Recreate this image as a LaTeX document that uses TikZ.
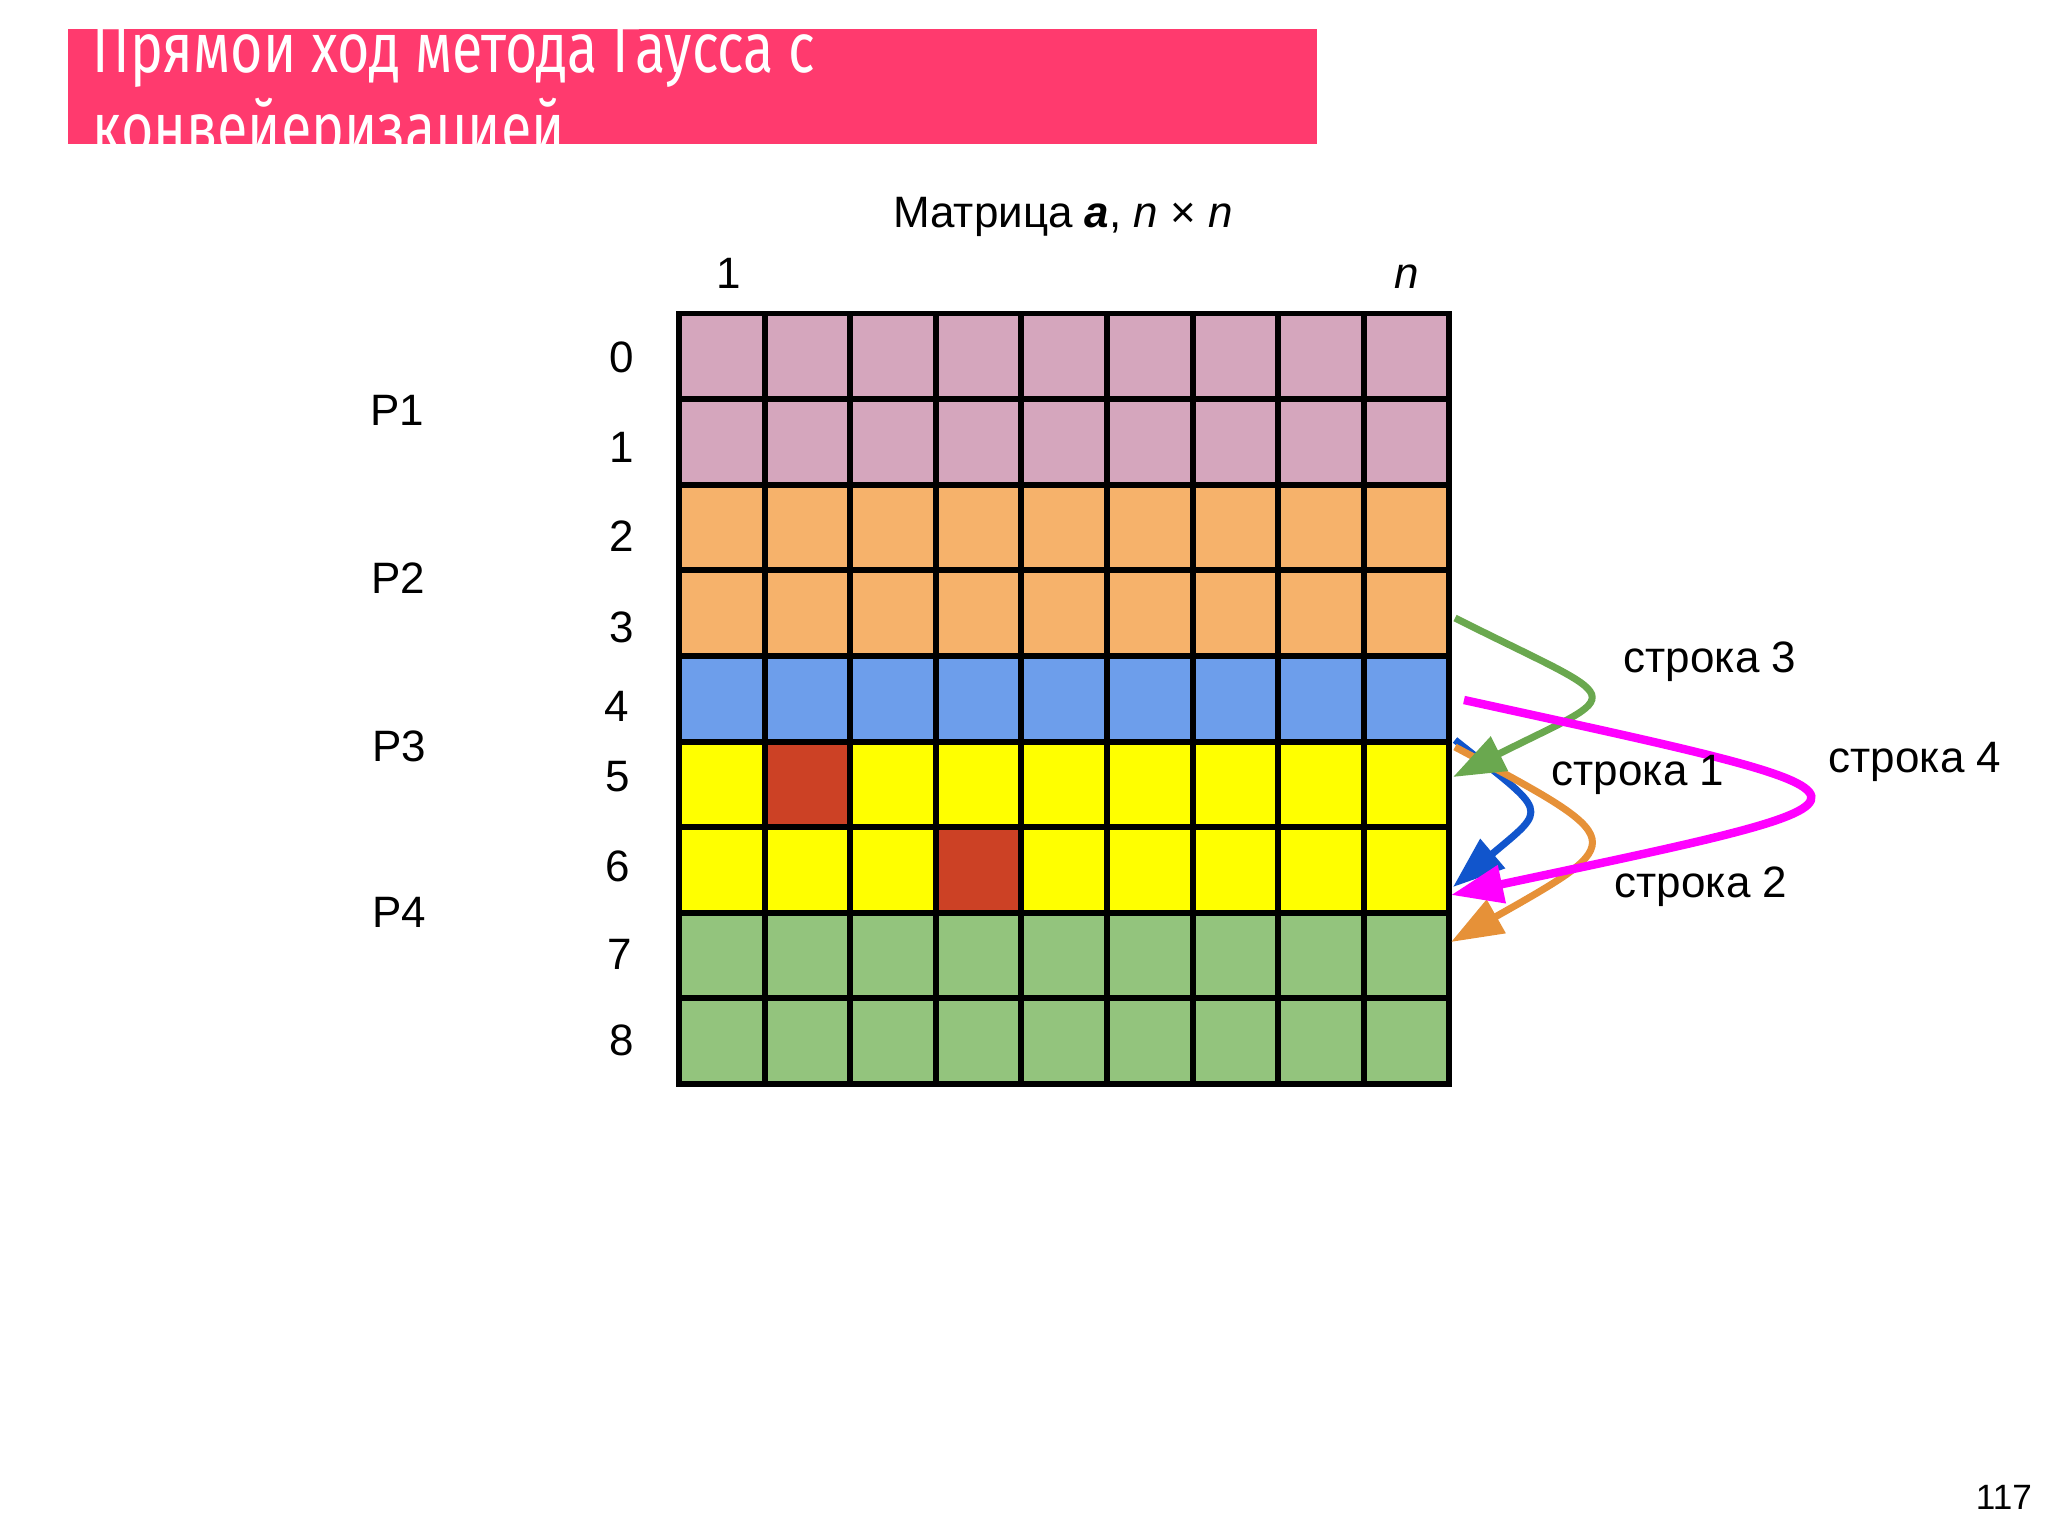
\documentclass[tikz,border=0pt]{standalone}
\usepackage{fontspec}
\setmainfont{Liberation Sans}
\newfontfamily\titlefont[FakeStretch=0.79]{Fira Sans}
\usetikzlibrary{arrows.meta}

\definecolor{titlepink}{HTML}{FF3A6E}
\definecolor{rowpink}{HTML}{D5A6BD}
\definecolor{roworange}{HTML}{F6B26B}
\definecolor{rowblue}{HTML}{6D9EEB}
\definecolor{rowyellow}{HTML}{FFFF00}
\definecolor{rowgreen}{HTML}{93C47D}
\definecolor{pivotred}{HTML}{CC4125}
\definecolor{arrgreen}{HTML}{6AA84F}
\definecolor{arrmagenta}{HTML}{FF00FF}
\definecolor{arrblue}{HTML}{1155CC}
\definecolor{arrorange}{HTML}{E69138}

\tikzset{
  lbl/.style={font=\fontsize{12.5}{15}\selectfont, inner sep=0pt},
  gridline/.style={line width=1.7pt},
  rowarrow/.style={line width=2pt, -{Triangle[length=0.52cm,width=0.37cm]}},
}

\begin{document}
\begin{tikzpicture}[x=0.01cm, y=-0.01cm]
        \useasboundingbox (0,0) rectangle (2048,1536);

        % Title bar
        \fill[titlepink] (68,29) rectangle (1317,144);
        \begin{scope}
            \clip (68,29) rectangle (1317,144);
            \node[anchor=base west, inner sep=0pt, text=white, font=\titlefont\fontsize{20}{24}\selectfont] (title1) at (92,72) {Прямой ход метода Гаусса с};
            \node[anchor=base west, inner sep=0pt, text=white, font=\titlefont\fontsize{20}{24}\selectfont] (title2) at (92,152) {конвейеризацией};
        \end{scope}

        % Matrix caption and column labels
        \node[lbl, anchor=base] (caption) at (1063,227) {Матрица \textbf{\textit{a}}, \textit{n} × \textit{n}};
        \node[lbl, anchor=base] (col1) at (729,288) {1};
        \node[lbl, anchor=base] (coln) at (1407,288) {\textit{n}};

        % Rows of the matrix
        \foreach \r/\c in {0/rowpink,1/rowpink,2/roworange,3/roworange,4/rowblue,5/rowyellow,6/rowyellow,7/rowgreen,8/rowgreen}
            \fill[\c] (679,{313.5+\r*85.6}) rectangle ++(770.4,85.6);

        % Pivot cells
        \fill[pivotred] ({679+85.6},{313.5+5*85.6}) rectangle ++(85.6,85.6);
        \fill[pivotred] ({679+3*85.6},{313.5+6*85.6}) rectangle ++(85.6,85.6);

        % Grid lines
        \foreach \i in {1,...,8} {
            \draw[gridline] ({679+\i*85.6},313.5) -- ++(0,770.4);
            \draw[gridline] (679,{313.5+\i*85.6}) -- ++(770.4,0);
        }
        \draw[gridline] (679,313.5) rectangle (1449.4,1083.9);

        % Row numbers
        \foreach \n/\x/\y in {0/622/357,1/622/447,2/622/536,3/622/627,4/617/706,5/618/777,6/618/866,7/620/954,8/622/1040}
            \node[lbl] (row\n) at (\x,\y) {\n};

        % Processes
        \node[lbl] (p1) at (397,410) {P1};
        \node[lbl] (p2) at (398,578) {P2};
        \node[lbl] (p3) at (399,746) {P3};
        \node[lbl] (p4) at (399,912) {P4};

        % Arrow ends on the right side of the matrix
        \coordinate (s1) at (1455,740);
        \coordinate (t1) at (1453,887);
        \coordinate (s2) at (1455,747);
        \coordinate (t2) at (1451,942);
        \coordinate (s3) at (1455,618);
        \coordinate (t3) at (1453,777);
        \coordinate (s4) at (1464,700);
        \coordinate (t4) at (1451,895);

        % Row transfers
        \draw[rowarrow, arrblue] (s1) .. controls (1549,815) and (1549,806) .. (t1);
        \draw[rowarrow, arrorange] (s2) .. controls (1631,841) and (1631,840) .. (t2);
        \draw[rowarrow, arrgreen] (s3) .. controls (1630,706) and (1630,688) .. (t3);
        \draw[rowarrow, arrmagenta, line width=2.4pt] (s4) .. controls (1921,800) and (1921,795) .. (t4);

        % Arrow labels
        \node[lbl, anchor=base] (row3lbl) at (1710,672) {строка 3};
        \node[lbl, anchor=base] (row1lbl) at (1638,785) {строка 1};
        \node[lbl, anchor=base] (row4lbl) at (1915,772) {строка 4};
        \node[lbl, anchor=base] (row2lbl) at (1701,897) {строка 2};

        % Page number
        \node[font=\fontsize{10}{12}\selectfont, inner sep=0pt] (pagenum) at (2004,1497) {117};
\end{tikzpicture}
\end{document}
